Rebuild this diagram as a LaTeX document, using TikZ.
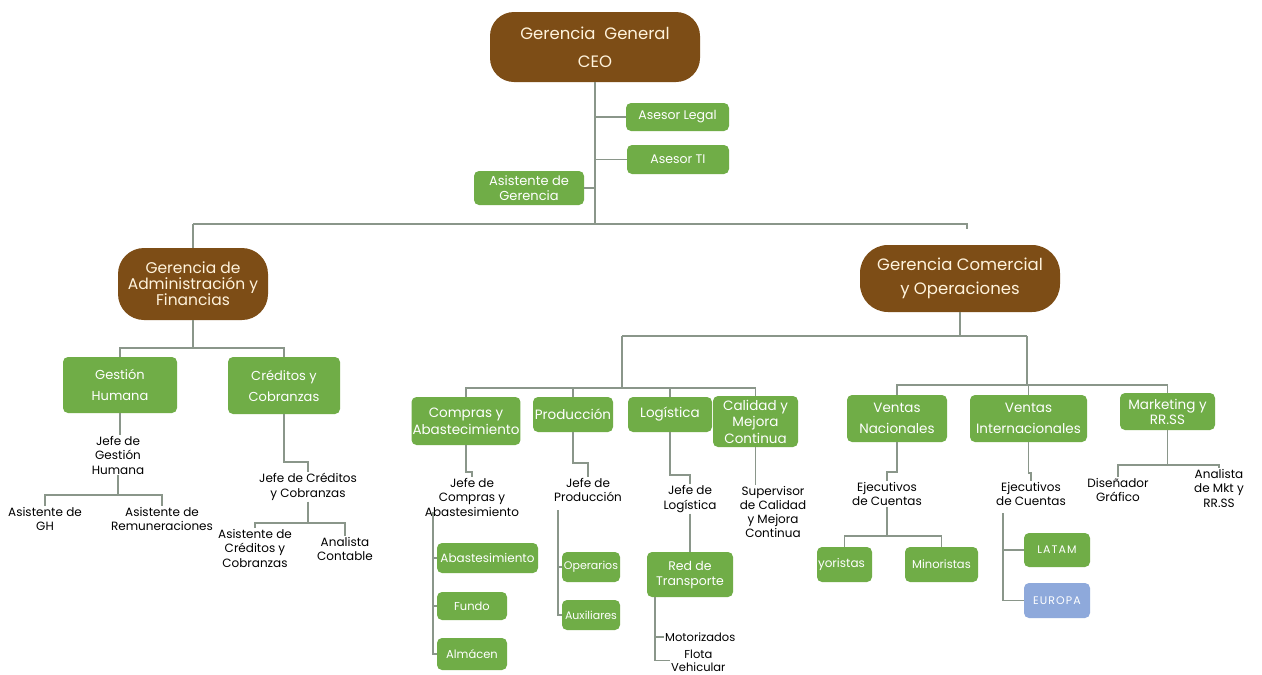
\documentclass[tikz,border=0pt]{standalone}
\usepackage{fontspec}
\setmainfont{Poppins}
\usetikzlibrary{calc}
\definecolor{brownc}{RGB}{125,77,22}
\definecolor{creamc}{RGB}{255,243,220}
\definecolor{greenc}{RGB}{112,173,71}
\definecolor{bluec}{RGB}{142,169,219}
\definecolor{linec}{RGB}{138,150,138}
\begin{document}
\begin{tikzpicture}[x=1pt,y=-1pt,
  brownbox/.style={fill=brownc, text=creamc, rounded corners=24pt, align=center, inner sep=2pt},
  greenbox/.style={fill=greenc, text=white, rounded corners=5pt, align=center, inner sep=1pt},
  bluebox/.style={greenbox, fill=bluec},
  sz/.style 2 args={minimum width=#1, minimum height=#2},
  lbl/.style={align=center, inner sep=1pt, text=black, font=\fontsize{12}{14.5}\selectfont},
  ln/.style={draw=linec, line width=1.4pt},
  fA/.style={font=\fontsize{12.5}{15}\selectfont},
  fB/.style={font=\fontsize{13.5}{17}\selectfont},
  fC/.style={font=\fontsize{13}{21}\selectfont},
  fS/.style={font=\fontsize{11.5}{13}\selectfont},
  fT/.style={font=\fontsize{11}{13}\selectfont\addfontfeature{LetterSpace=10}}]
\useasboundingbox (0,0) rectangle (1262,675);
\fill[white] (0,0) rectangle (1262,675);

% top level
\node[brownbox, sz={210pt}{70pt}, font=\fontsize{16.5}{28}\selectfont] (ceo) at (595,47) {Gerencia\ \ General\\CEO};
\node[greenbox, sz={103pt}{28pt}, fA] (legal) at (677.5,117) {Asesor Legal};
\node[greenbox, sz={102pt}{29pt}, fA] (ti) at (678,159.5) {Asesor TI};
\node[greenbox, sz={110pt}{34pt}, font=\fontsize{13}{15}\selectfont] (asisg) at (529,188) {Asistente de\\Gerencia};

\node[brownbox, sz={150pt}{72pt}, rounded corners=26pt, font=\fontsize{15.5}{16}\selectfont] (adm) at (193,284) {Gerencia de\\Administración y\\Financias};
\node[brownbox, sz={200pt}{67pt}, rounded corners=28pt, font=\fontsize{16.5}{24}\selectfont] (com) at (960,278.5) {Gerencia Comercial\\y Operaciones};

\draw[ln] (ceo.south) -- (ceo.south |- 0,224);
\draw[ln] (adm.north |- 0,224) -- (967,224) -- (967,229);
\draw[ln] (adm.north |- 0,224) -- (adm.north);
\draw[ln] (legal.west) -- (legal.west -| ceo.south);
\draw[ln] (ti.west) -- (ti.west -| ceo.south);
\draw[ln] (asisg.east) -- (asisg.east -| ceo.south);

% Administracion
\node[greenbox, sz={114pt}{56pt}, fC] (gh) at (120,385) {Gestión\\Humana};
\node[greenbox, sz={112pt}{57pt}, fC] (cc) at (284,385.5) {Créditos y\\Cobranzas};
\draw[ln] (adm.south) -- (adm.south |- 0,348);
\draw[ln] (gh.north) |- (adm.south |- 0,348) -| (cc.north);

\node[lbl] (jgh) at (118,455) {Jefe de\\Gestión\\Humana};
\node[lbl] (agh) at (45,519) {Asistente de\\GH};
\node[lbl] (arem) at (162,519) {Asistente de\\Remuneraciones};
\draw[ln] (gh.south) -- (gh.south |- jgh.north);
\draw[ln] (jgh.south) -- (jgh.south |- 0,495);
\draw[ln] (agh.north) |- (jgh.south |- 0,495) -| (arem.north);

\node[lbl] (jcc) at (308,487) {Jefe de Créditos\\y Cobranzas};
\node[lbl] (acc) at (255,548) {Asistente de\\Créditos y\\Cobranzas};
\node[lbl] (acon) at (345,549) {Analista\\Contable};
\draw[ln] (cc.south) -- (cc.south |- 0,462) -| (jcc.north);
\draw[ln] (jcc.south) -- (jcc.south |- 0,523);
\draw[ln] (acc.north) |- (jcc.south |- 0,523) -| (acon.north);

% Comercial level 2
\node[greenbox, sz={108pt}{48pt}, fB] (comp) at (466,421) {Compras y\\Abastecimiento};
\node[greenbox, sz={80pt}{35pt}, fB] (prod) at (573,414.5) {Producción};
\node[greenbox, sz={84pt}{35pt}, fB] (log) at (670,414.5) {Logística};
\node[greenbox, sz={85pt}{51pt}, font=\fontsize{13.5}{16.5}\selectfont] (cal) at (755.5,421.5) {Calidad y\\Mejora\\Continua};
\node[greenbox, sz={100pt}{47pt}, font=\fontsize{13.5}{21}\selectfont] (vn) at (897,418.5) {Ventas\\Nacionales};
\node[greenbox, sz={117pt}{47pt}, font=\fontsize{13.5}{21}\selectfont] (vi) at (1028.5,418.5) {Ventas\\Internacionales};
\node[greenbox, sz={95pt}{37pt}, font=\fontsize{13.5}{15}\selectfont] (mkt) at (1167.5,411.5) {Marketing y\\RR.SS};

\coordinate (cL) at (622,336);
\coordinate (cR) at (1027,336);
\draw[ln] (com.south) -- (com.south |- cL);
\draw[ln] (cL) -- (cR);
\draw[ln] (cL) -- (cL |- 0,388);
\draw[ln] (comp.north) |- (cL |- 0,388) -| (cal.north);
\draw[ln] (prod.north) -- (prod.north |- 0,388);
\draw[ln] (log.north) -- (log.north |- 0,388);
\draw[ln] (cR) -- (cR |- 0,385);
\draw[ln] (vn.north) |- (cR |- 0,385) -| (mkt.north);
\draw[ln] (vi.north) -- (vi.north |- 0,385);

% Compras
\node[lbl] (jcomp) at (472,497) {Jefe de\\Compras y\\Abastesimiento};
\node[greenbox, sz={101pt}{30pt}, font=\fontsize{12}{13}\selectfont] (abas) at (487.5,558) {Abastesimiento};
\node[greenbox, sz={70pt}{28pt}, fS] (fundo) at (472,606) {Fundo};
\node[greenbox, sz={70pt}{32pt}, fS] (alm) at (472,654) {Almácen};
\draw[ln] (comp.south) -- (comp.south |- 0,472) -| (jcomp.north);
\coordinate (cbar) at (433,512);
\draw[ln] (cbar) |- (abas.west);
\draw[ln] (cbar) |- (fundo.west);
\draw[ln] (cbar) |- (alm.west);

% Produccion
\node[lbl] (jprod) at (588,490) {Jefe de\\Producción};
\node[greenbox, sz={58pt}{30pt}, font=\fontsize{11}{13}\selectfont] (oper) at (591,567) {Operarios};
\node[greenbox, sz={58pt}{30pt}, font=\fontsize{11}{13}\selectfont] (aux) at (591,615) {Auxiliares};
\draw[ln] (prod.south) -- (prod.south |- 0,463) -| (jprod.north);
\coordinate (pbar) at (558,510);
\draw[ln] (pbar) |- (oper.west);
\draw[ln] (pbar) |- (aux.west);

% Logistica
\node[lbl] (jlog) at (690,499) {Jefe de\\Logística};
\node[greenbox, sz={86pt}{45pt}, font=\fontsize{12.5}{15}\selectfont] (red) at (690,574.5) {Red de\\Transporte};
\node[lbl, anchor=west, font=\fontsize{11.5}{13}\selectfont] (moto) at (664,637) {Motorizados};
\node[lbl, anchor=west, align=center, font=\fontsize{11.5}{13}\selectfont] (flota) at (670,660.5) {Flota\\Vehicular};
\draw[ln] (log.south) -- (log.south |- 0,475) -| (jlog.north);
\draw[ln] (jlog.south) -- (red.north);
\coordinate (rbar) at ($(red.south west)+(8,0)$);
\draw[ln] (rbar) |- (moto.west);
\draw[ln] (rbar) |- (flota.west);

% Calidad
\node[lbl, font=\fontsize{12}{14}\selectfont] (sup) at (773,512) {Supervisor\\de Calidad\\y Mejora\\Continua};
\draw[ln] (cal.south) -- (cal.south |- sup.north);

% Ventas Nacionales
\node[lbl] (ejn) at (887,494) {Ejecutivos\\de Cuentas};
\node[greenbox, sz={55pt}{35pt}, font=\fontsize{12}{13}\selectfont, align=left, text width=53pt, inner xsep=1pt] (may) at (844.5,564.5) {yoristas};
\node[greenbox, sz={73pt}{35pt}, fS] (min) at (941.5,564.5) {Minoristas};
\draw[ln] (vn.south) -- (vn.south |- 0,472) -| (ejn.north);
\draw[ln] (ejn.south) -- (ejn.south |- 0,536);
\draw[ln] (may.north) |- (ejn.south |- 0,536) -| (min.north);

% Ventas Internacionales
\node[lbl] (eji) at (1031,494) {Ejecutivos\\de Cuentas};
\node[greenbox, sz={66pt}{34pt}, fT] (latam) at (1057,550) {LATAM};
\node[bluebox, sz={66pt}{35pt}, fT] (eur) at (1057,600.5) {EUROPA};
\draw[ln] (vi.south) -- (vi.south |- 0,473) -| (eji.north);
\coordinate (ibar) at (1003,513);
\draw[ln] (ibar) |- (latam.west);
\draw[ln] (ibar) |- (eur.west);

% Marketing
\node[lbl] (dis) at (1118,490) {Diseñador\\Gráfico};
\node[lbl] (ana) at (1219,488) {Analista\\de Mkt y\\RR.SS};
\draw[ln] (mkt.south) -- (mkt.south |- 0,465);
\draw[ln] (dis.north) |- (mkt.south |- 0,465) -| (ana.north);
\end{tikzpicture}
\end{document}
